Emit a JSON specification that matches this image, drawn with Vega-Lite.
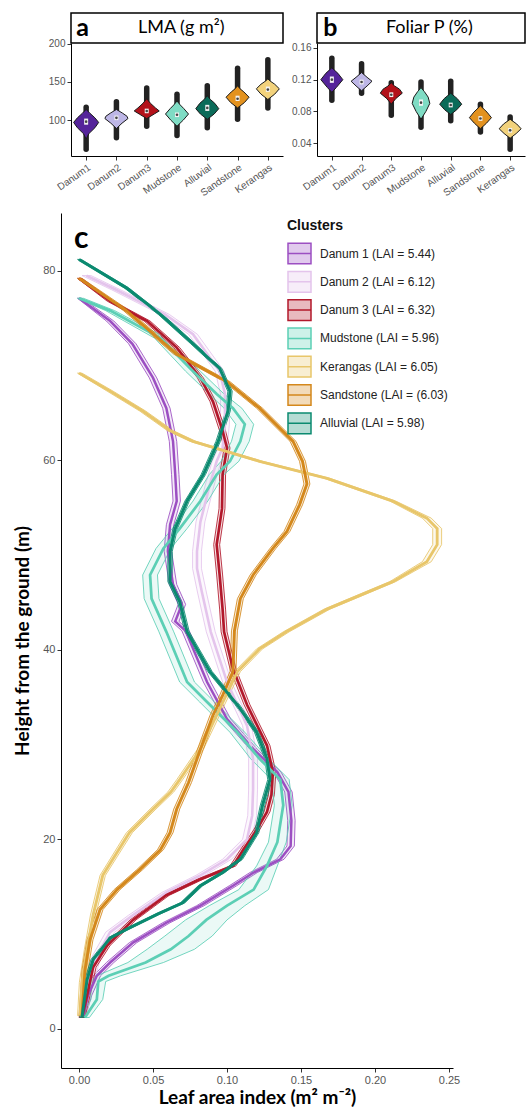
{
  "$schema": "https://vega.github.io/schema/vega-lite/v6.json",
  "padding": {"left": 13, "top": 12, "right": 0, "bottom": 0},
  "background": "white",
  "config": {
    "view": {"stroke": null},
    "font": "Liberation Sans",
    "axis": {"grid": false, "domainColor": "#000", "domainWidth": 1, "tickColor": "#333", "tickSize": 4, "labelColor": "#555", "labelFont": "Liberation Sans", "titleFont": "Lato", "titleColor": "#000", "labelOverlap": false}
  },
  "resolve": {"scale": {"color": "independent", "size": "independent", "x": "independent", "y": "independent", "stroke": "independent", "fill": "independent", "strokeWidth": "independent", "xOffset": "independent"}, "legend": {"color": "independent"}},
  "spacing": 15,
  "vconcat": [
    {
      "spacing": 7,
      "resolve": {"scale": {"color": "independent", "size": "independent", "x": "independent", "y": "independent", "xOffset": "independent"}},
      "hconcat": [
        {
          "spacing": -14,
          "resolve": {"scale": {"color": "independent", "size": "independent", "x": "independent", "y": "independent", "xOffset": "independent"}},
          "hconcat": [
            {"width": 1, "height": 10, "data": {"values": []}, "mark": "point"},
            {
              "bounds": "flush",
              "spacing": 0,
              "vconcat": [
                {
                  "width": 212, "height": 30,
                  "view": {"stroke": "#000", "strokeWidth": 1.5, "fill": "#fff"},
                  "layer": [
                    {"data": {"values": [{"t": "a"}]}, "mark": {"type": "text", "font": "Lato", "fontWeight": "bold", "fontSize": 25, "align": "left", "baseline": "middle"},
                     "encoding": {"x": {"datum": 0.025, "type": "quantitative", "scale": {"domain": [0, 1]}, "axis": null}, "y": {"datum": 0.5, "type": "quantitative", "scale": {"domain": [0, 1]}, "axis": null}, "text": {"field": "t"}}},
                    {"data": {"values": [{"t": "LMA (g m²)"}]}, "mark": {"type": "text", "font": "Lato", "fontSize": 18, "align": "center", "baseline": "middle"},
                     "encoding": {"x": {"datum": 0.52, "type": "quantitative", "axis": null}, "y": {"datum": 0.5, "type": "quantitative", "axis": null}, "text": {"field": "t"}}}
                  ]
                },
                {
                  "width": 212, "height": 113,
                  "encoding": {
                    "x": {"field": "cl", "type": "nominal", "sort": ["Danum1", "Danum2", "Danum3", "Mudstone", "Alluvial", "Sandstone", "Kerangas"], "scale": {"type": "point", "padding": 0.5},
                          "axis": {"title": null, "labelAngle": -35, "labelAlign": "right", "labelBaseline": "top", "labelFontSize": 10, "labelPadding": 2}}
                  },
                  "layer": [
                    {
                      "data": {"name": "statsA", "values": [
                        {"cl": "Danum1", "lo": 62, "hi": 117, "q1": 94, "q3": 102, "med": 98},
                        {"cl": "Danum2", "lo": 77, "hi": 124, "q1": 100, "q3": 106, "med": 103},
                        {"cl": "Danum3", "lo": 92, "hi": 142, "q1": 109, "q3": 115, "med": 112},
                        {"cl": "Mudstone", "lo": 80, "hi": 134, "q1": 104, "q3": 110, "med": 107},
                        {"cl": "Alluvial", "lo": 90, "hi": 145, "q1": 112, "q3": 120, "med": 116},
                        {"cl": "Sandstone", "lo": 101, "hi": 168, "q1": 125, "q3": 132, "med": 128},
                        {"cl": "Kerangas", "lo": 116, "hi": 179, "q1": 137, "q3": 144, "med": 140}
                      ]},
                      "mark": {"type": "rule", "strokeWidth": 5.5, "strokeCap": "round", "color": "#222"},
                      "encoding": {"y": {"field": "lo", "type": "quantitative", "scale": {"domain": [53, 201], "nice": false, "zero": false}, "axis": {"title": null, "values": [100, 150, 200], "tickCount": 5, "labelFontSize": 10}}, "y2": {"field": "hi"}}
                    },
                    {
                      "data": {"values": [
                        {"cl": "Danum1", "v": 75, "w": 0}, {"cl": "Danum1", "v": 82, "w": 0.2}, {"cl": "Danum1", "v": 90, "w": 0.7}, {"cl": "Danum1", "v": 97, "w": 1.0}, {"cl": "Danum1", "v": 103, "w": 0.7}, {"cl": "Danum1", "v": 109, "w": 0.3}, {"cl": "Danum1", "v": 114, "w": 0}, {"cl": "Danum1", "v": 109, "w": -0.3}, {"cl": "Danum1", "v": 103, "w": -0.7}, {"cl": "Danum1", "v": 97, "w": -1.0}, {"cl": "Danum1", "v": 90, "w": -0.7}, {"cl": "Danum1", "v": 82, "w": -0.2}, {"cl": "Danum1", "v": 75, "w": 0},
                        {"cl": "Danum2", "v": 89, "w": 0}, {"cl": "Danum2", "v": 96, "w": 0.45}, {"cl": "Danum2", "v": 102, "w": 0.92}, {"cl": "Danum2", "v": 105, "w": 0.85}, {"cl": "Danum2", "v": 109, "w": 0.5}, {"cl": "Danum2", "v": 114, "w": 0}, {"cl": "Danum2", "v": 109, "w": -0.5}, {"cl": "Danum2", "v": 105, "w": -0.85}, {"cl": "Danum2", "v": 102, "w": -0.92}, {"cl": "Danum2", "v": 96, "w": -0.45}, {"cl": "Danum2", "v": 89, "w": 0},
                        {"cl": "Danum3", "v": 102, "w": 0}, {"cl": "Danum3", "v": 108, "w": 0.6}, {"cl": "Danum3", "v": 112, "w": 1.0}, {"cl": "Danum3", "v": 116, "w": 0.7}, {"cl": "Danum3", "v": 122, "w": 0.3}, {"cl": "Danum3", "v": 128, "w": 0}, {"cl": "Danum3", "v": 122, "w": -0.3}, {"cl": "Danum3", "v": 116, "w": -0.7}, {"cl": "Danum3", "v": 112, "w": -1.0}, {"cl": "Danum3", "v": 108, "w": -0.6}, {"cl": "Danum3", "v": 102, "w": 0},
                        {"cl": "Mudstone", "v": 92, "w": 0}, {"cl": "Mudstone", "v": 100, "w": 0.5}, {"cl": "Mudstone", "v": 108, "w": 0.92}, {"cl": "Mudstone", "v": 115, "w": 0.55}, {"cl": "Mudstone", "v": 120, "w": 0.25}, {"cl": "Mudstone", "v": 125, "w": 0}, {"cl": "Mudstone", "v": 120, "w": -0.25}, {"cl": "Mudstone", "v": 115, "w": -0.55}, {"cl": "Mudstone", "v": 108, "w": -0.92}, {"cl": "Mudstone", "v": 100, "w": -0.5}, {"cl": "Mudstone", "v": 92, "w": 0},
                        {"cl": "Alluvial", "v": 101, "w": 0}, {"cl": "Alluvial", "v": 108, "w": 0.55}, {"cl": "Alluvial", "v": 115, "w": 0.92}, {"cl": "Alluvial", "v": 122, "w": 0.6}, {"cl": "Alluvial", "v": 127, "w": 0.25}, {"cl": "Alluvial", "v": 132, "w": 0}, {"cl": "Alluvial", "v": 127, "w": -0.25}, {"cl": "Alluvial", "v": 122, "w": -0.6}, {"cl": "Alluvial", "v": 115, "w": -0.92}, {"cl": "Alluvial", "v": 108, "w": -0.55}, {"cl": "Alluvial", "v": 101, "w": 0},
                        {"cl": "Sandstone", "v": 116, "w": 0}, {"cl": "Sandstone", "v": 123, "w": 0.55}, {"cl": "Sandstone", "v": 130, "w": 0.92}, {"cl": "Sandstone", "v": 137, "w": 0.5}, {"cl": "Sandstone", "v": 141, "w": 0.2}, {"cl": "Sandstone", "v": 145, "w": 0}, {"cl": "Sandstone", "v": 141, "w": -0.2}, {"cl": "Sandstone", "v": 137, "w": -0.5}, {"cl": "Sandstone", "v": 130, "w": -0.92}, {"cl": "Sandstone", "v": 123, "w": -0.55}, {"cl": "Sandstone", "v": 116, "w": 0},
                        {"cl": "Kerangas", "v": 127, "w": 0}, {"cl": "Kerangas", "v": 134, "w": 0.55}, {"cl": "Kerangas", "v": 141, "w": 0.92}, {"cl": "Kerangas", "v": 147, "w": 0.55}, {"cl": "Kerangas", "v": 151, "w": 0.2}, {"cl": "Kerangas", "v": 154, "w": 0}, {"cl": "Kerangas", "v": 151, "w": -0.2}, {"cl": "Kerangas", "v": 147, "w": -0.55}, {"cl": "Kerangas", "v": 141, "w": -0.92}, {"cl": "Kerangas", "v": 134, "w": -0.55}, {"cl": "Kerangas", "v": 127, "w": 0}
                      ]},
                      "mark": {"type": "line", "filled": true, "stroke": "#1a1a1a", "strokeWidth": 1, "strokeJoin": "round"},
                      "encoding": {"y": {"field": "v", "type": "quantitative"}, "order": {"value": null},
                                   "xOffset": {"field": "w", "type": "quantitative", "scale": {"domain": [-1, 1], "range": [-12.5, 12.5]}},
                                   "color": {"field": "cl", "type": "nominal", "scale": {"domain": ["Danum1", "Danum2", "Danum3", "Mudstone", "Alluvial", "Sandstone", "Kerangas"], "range": ["#55249a", "#bdb6e6", "#b3111a", "#7fdcc4", "#0b6b59", "#e3921f", "#f2d27c"]}, "legend": null}}
                    },
                    {
                      "data": {"name": "statsA"},
                      "mark": {"type": "rule", "strokeWidth": 4, "color": "#f2f2f2"},
                      "encoding": {"y": {"field": "q1", "type": "quantitative"}, "y2": {"field": "q3"}}
                    },
                    {
                      "data": {"name": "statsA"},
                      "mark": {"type": "point", "filled": true, "size": 7, "color": "#444", "opacity": 1},
                      "encoding": {"y": {"field": "med", "type": "quantitative"}}
                    }
                  ]
                }
              ]
            }
          ]
        },
        {
          "bounds": "flush",
          "spacing": 0,
          "vconcat": [
            {
              "width": 208, "height": 30,
              "view": {"stroke": "#000", "strokeWidth": 1.5, "fill": "#fff"},
              "layer": [
                {"data": {"values": [{"t": "b"}]}, "mark": {"type": "text", "font": "Lato", "fontWeight": "bold", "fontSize": 25, "align": "left", "baseline": "middle"},
                 "encoding": {"x": {"datum": 0.03, "type": "quantitative", "scale": {"domain": [0, 1]}, "axis": null}, "y": {"datum": 0.5, "type": "quantitative", "scale": {"domain": [0, 1]}, "axis": null}, "text": {"field": "t"}}},
                {"data": {"values": [{"t": "Foliar P (%)"}]}, "mark": {"type": "text", "font": "Lato", "fontSize": 18, "align": "center", "baseline": "middle"},
                 "encoding": {"x": {"datum": 0.54, "type": "quantitative", "axis": null}, "y": {"datum": 0.5, "type": "quantitative", "axis": null}, "text": {"field": "t"}}}
              ]
            },
            {
              "width": 208, "height": 113,
              "encoding": {
                "x": {"field": "cl", "type": "nominal", "sort": ["Danum1", "Danum2", "Danum3", "Mudstone", "Alluvial", "Sandstone", "Kerangas"], "scale": {"type": "point", "padding": 0.5},
                      "axis": {"title": null, "labelAngle": -35, "labelAlign": "right", "labelBaseline": "top", "labelFontSize": 10, "labelPadding": 2}}
              },
              "layer": [
                {
                  "data": {"name": "statsB", "values": [
                    {"cl": "Danum1", "lo": 0.094, "hi": 0.147, "q1": 0.116, "q3": 0.124, "med": 0.120},
                    {"cl": "Danum2", "lo": 0.103, "hi": 0.140, "q1": 0.114, "q3": 0.120, "med": 0.117},
                    {"cl": "Danum3", "lo": 0.075, "hi": 0.116, "q1": 0.098, "q3": 0.104, "med": 0.101},
                    {"cl": "Mudstone", "lo": 0.060, "hi": 0.117, "q1": 0.087, "q3": 0.095, "med": 0.091},
                    {"cl": "Alluvial", "lo": 0.068, "hi": 0.118, "q1": 0.085, "q3": 0.091, "med": 0.088},
                    {"cl": "Sandstone", "lo": 0.054, "hi": 0.089, "q1": 0.068, "q3": 0.074, "med": 0.071},
                    {"cl": "Kerangas", "lo": 0.032, "hi": 0.073, "q1": 0.053, "q3": 0.059, "med": 0.056}
                  ]},
                  "mark": {"type": "rule", "strokeWidth": 5.5, "strokeCap": "round", "color": "#222"},
                  "encoding": {"y": {"field": "lo", "type": "quantitative", "scale": {"domain": [0.0236, 0.1663], "nice": false, "zero": false}, "axis": {"title": null, "values": [0.04, 0.08, 0.12, 0.16], "tickCount": 6, "format": ".2f", "labelFontSize": 10, "labelOverlap": false}}, "y2": {"field": "hi"}}
                },
                {
                  "data": {"values": [
                    {"cl": "Danum1", "v": 0.104, "w": 0}, {"cl": "Danum1", "v": 0.110, "w": 0.4}, {"cl": "Danum1", "v": 0.120, "w": 1.0}, {"cl": "Danum1", "v": 0.128, "w": 0.55}, {"cl": "Danum1", "v": 0.135, "w": 0}, {"cl": "Danum1", "v": 0.128, "w": -0.55}, {"cl": "Danum1", "v": 0.120, "w": -1.0}, {"cl": "Danum1", "v": 0.110, "w": -0.4}, {"cl": "Danum1", "v": 0.104, "w": 0},
                    {"cl": "Danum2", "v": 0.106, "w": 0}, {"cl": "Danum2", "v": 0.112, "w": 0.5}, {"cl": "Danum2", "v": 0.118, "w": 0.95}, {"cl": "Danum2", "v": 0.123, "w": 0.5}, {"cl": "Danum2", "v": 0.129, "w": 0}, {"cl": "Danum2", "v": 0.123, "w": -0.5}, {"cl": "Danum2", "v": 0.118, "w": -0.95}, {"cl": "Danum2", "v": 0.112, "w": -0.5}, {"cl": "Danum2", "v": 0.106, "w": 0},
                    {"cl": "Danum3", "v": 0.089, "w": 0}, {"cl": "Danum3", "v": 0.096, "w": 0.4}, {"cl": "Danum3", "v": 0.103, "w": 1.0}, {"cl": "Danum3", "v": 0.108, "w": 0.75}, {"cl": "Danum3", "v": 0.112, "w": 0.3}, {"cl": "Danum3", "v": 0.116, "w": 0}, {"cl": "Danum3", "v": 0.112, "w": -0.3}, {"cl": "Danum3", "v": 0.108, "w": -0.75}, {"cl": "Danum3", "v": 0.103, "w": -1.0}, {"cl": "Danum3", "v": 0.096, "w": -0.4}, {"cl": "Danum3", "v": 0.089, "w": 0},
                    {"cl": "Mudstone", "v": 0.070, "w": 0}, {"cl": "Mudstone", "v": 0.080, "w": 0.45}, {"cl": "Mudstone", "v": 0.090, "w": 0.8}, {"cl": "Mudstone", "v": 0.098, "w": 0.65}, {"cl": "Mudstone", "v": 0.105, "w": 0.3}, {"cl": "Mudstone", "v": 0.110, "w": 0}, {"cl": "Mudstone", "v": 0.105, "w": -0.3}, {"cl": "Mudstone", "v": 0.098, "w": -0.65}, {"cl": "Mudstone", "v": 0.090, "w": -0.8}, {"cl": "Mudstone", "v": 0.080, "w": -0.45}, {"cl": "Mudstone", "v": 0.070, "w": 0},
                    {"cl": "Alluvial", "v": 0.076, "w": 0}, {"cl": "Alluvial", "v": 0.082, "w": 0.55}, {"cl": "Alluvial", "v": 0.089, "w": 1.0}, {"cl": "Alluvial", "v": 0.096, "w": 0.6}, {"cl": "Alluvial", "v": 0.103, "w": 0}, {"cl": "Alluvial", "v": 0.096, "w": -0.6}, {"cl": "Alluvial", "v": 0.089, "w": -1.0}, {"cl": "Alluvial", "v": 0.082, "w": -0.55}, {"cl": "Alluvial", "v": 0.076, "w": 0},
                    {"cl": "Sandstone", "v": 0.058, "w": 0}, {"cl": "Sandstone", "v": 0.065, "w": 0.55}, {"cl": "Sandstone", "v": 0.072, "w": 1.0}, {"cl": "Sandstone", "v": 0.079, "w": 0.6}, {"cl": "Sandstone", "v": 0.087, "w": 0}, {"cl": "Sandstone", "v": 0.079, "w": -0.6}, {"cl": "Sandstone", "v": 0.072, "w": -1.0}, {"cl": "Sandstone", "v": 0.065, "w": -0.55}, {"cl": "Sandstone", "v": 0.058, "w": 0},
                    {"cl": "Kerangas", "v": 0.046, "w": 0}, {"cl": "Kerangas", "v": 0.052, "w": 0.55}, {"cl": "Kerangas", "v": 0.058, "w": 1.0}, {"cl": "Kerangas", "v": 0.064, "w": 0.6}, {"cl": "Kerangas", "v": 0.070, "w": 0}, {"cl": "Kerangas", "v": 0.064, "w": -0.6}, {"cl": "Kerangas", "v": 0.058, "w": -1.0}, {"cl": "Kerangas", "v": 0.052, "w": -0.55}, {"cl": "Kerangas", "v": 0.046, "w": 0}
                  ]},
                  "mark": {"type": "line", "filled": true, "stroke": "#1a1a1a", "strokeWidth": 1, "strokeJoin": "round"},
                  "encoding": {"y": {"field": "v", "type": "quantitative"}, "order": {"value": null},
                               "xOffset": {"field": "w", "type": "quantitative", "scale": {"domain": [-1, 1], "range": [-11, 11]}},
                               "color": {"field": "cl", "type": "nominal", "scale": {"domain": ["Danum1", "Danum2", "Danum3", "Mudstone", "Alluvial", "Sandstone", "Kerangas"], "range": ["#55249a", "#bdb6e6", "#b3111a", "#7fdcc4", "#0b6b59", "#e3921f", "#f2d27c"]}, "legend": null}}
                },
                {
                  "data": {"name": "statsB"},
                  "mark": {"type": "rule", "strokeWidth": 4, "color": "#f2f2f2"},
                  "encoding": {"y": {"field": "q1", "type": "quantitative"}, "y2": {"field": "q3"}}
                },
                {
                  "data": {"name": "statsB"},
                  "mark": {"type": "point", "filled": true, "size": 7, "color": "#444", "opacity": 1},
                  "encoding": {"y": {"field": "med", "type": "quantitative"}}
                }
              ]
            }
          ]
        }
      ]
    },
    {
      "width": 392, "height": 855,
      "resolve": {"scale": {"strokeWidth": "independent"}},
      "layer": [
        {
          "data": {"name": "lai", "values": [
            {"cl":"Danum 1","h":1.4,"m":0.003,"lo":0.0015,"hi":0.0045},{"cl":"Danum 1","h":3.5,"m":0.006,"lo":0.0035,"hi":0.0085},{"cl":"Danum 1","h":5.6,"m":0.012,"lo":0.0095,"hi":0.0145},{"cl":"Danum 1","h":7.0,"m":0.021,"lo":0.0185,"hi":0.0235},{"cl":"Danum 1","h":9.1,"m":0.0365,"lo":0.034,"hi":0.039},{"cl":"Danum 1","h":11.2,"m":0.059,"lo":0.0565,"hi":0.0615},{"cl":"Danum 1","h":13.0,"m":0.082,"lo":0.0795,"hi":0.0845},{"cl":"Danum 1","h":15.1,"m":0.104,"lo":0.1015,"hi":0.1065},{"cl":"Danum 1","h":16.5,"m":0.118,"lo":0.1155,"hi":0.1205},{"cl":"Danum 1","h":17.9,"m":0.136,"lo":0.1335,"hi":0.1385},{"cl":"Danum 1","h":19.3,"m":0.143,"lo":0.1405,"hi":0.1455},{"cl":"Danum 1","h":22,"m":0.1435,"lo":0.141,"hi":0.146},{"cl":"Danum 1","h":25,"m":0.1415,"lo":0.139,"hi":0.144},{"cl":"Danum 1","h":27.1,"m":0.134,"lo":0.1315,"hi":0.1365},{"cl":"Danum 1","h":29.5,"m":0.118,"lo":0.1155,"hi":0.1205},{"cl":"Danum 1","h":32.7,"m":0.1,"lo":0.0975,"hi":0.1025},{"cl":"Danum 1","h":36.6,"m":0.0865,"lo":0.084,"hi":0.089},{"cl":"Danum 1","h":42,"m":0.072,"lo":0.0695,"hi":0.0745},{"cl":"Danum 1","h":43,"m":0.065,"lo":0.0625,"hi":0.0675},{"cl":"Danum 1","h":44.8,"m":0.0695,"lo":0.067,"hi":0.072},{"cl":"Danum 1","h":46.9,"m":0.0635,"lo":0.061,"hi":0.066},{"cl":"Danum 1","h":50.4,"m":0.06,"lo":0.0575,"hi":0.0625},{"cl":"Danum 1","h":53.2,"m":0.0615,"lo":0.059,"hi":0.064},{"cl":"Danum 1","h":55.7,"m":0.066,"lo":0.0635,"hi":0.0685},{"cl":"Danum 1","h":58.5,"m":0.065,"lo":0.0625,"hi":0.0675},{"cl":"Danum 1","h":62,"m":0.0635,"lo":0.061,"hi":0.066},{"cl":"Danum 1","h":65.5,"m":0.059,"lo":0.0565,"hi":0.0615},{"cl":"Danum 1","h":68.7,"m":0.05,"lo":0.0475,"hi":0.0525},{"cl":"Danum 1","h":72.3,"m":0.036,"lo":0.0335,"hi":0.0385},{"cl":"Danum 1","h":74.7,"m":0.021,"lo":0.0185,"hi":0.0235},{"cl":"Danum 1","h":77.1,"m":0.0,"lo":-0.001,"hi":0.002},
            {"cl":"Danum 2","h":1.4,"m":0.002,"lo":0.0,"hi":0.005},{"cl":"Danum 2","h":4.1,"m":0.0054,"lo":0.0024,"hi":0.0084},{"cl":"Danum 2","h":7.7,"m":0.012,"lo":0.009,"hi":0.015},{"cl":"Danum 2","h":10.2,"m":0.021,"lo":0.018,"hi":0.024},{"cl":"Danum 2","h":12.0,"m":0.0365,"lo":0.0335,"hi":0.0395},{"cl":"Danum 2","h":14.4,"m":0.059,"lo":0.056,"hi":0.062},{"cl":"Danum 2","h":16.2,"m":0.082,"lo":0.079,"hi":0.085},{"cl":"Danum 2","h":17.9,"m":0.1,"lo":0.097,"hi":0.103},{"cl":"Danum 2","h":20,"m":0.1135,"lo":0.1105,"hi":0.1165},{"cl":"Danum 2","h":22.5,"m":0.117,"lo":0.114,"hi":0.12},{"cl":"Danum 2","h":25.3,"m":0.1176,"lo":0.1146,"hi":0.1206},{"cl":"Danum 2","h":28.5,"m":0.1176,"lo":0.1146,"hi":0.1206},{"cl":"Danum 2","h":32,"m":0.1135,"lo":0.1105,"hi":0.1165},{"cl":"Danum 2","h":36.6,"m":0.1,"lo":0.097,"hi":0.103},{"cl":"Danum 2","h":41.9,"m":0.089,"lo":0.086,"hi":0.092},{"cl":"Danum 2","h":46.1,"m":0.083,"lo":0.08,"hi":0.086},{"cl":"Danum 2","h":48.6,"m":0.0797,"lo":0.0767,"hi":0.0827},{"cl":"Danum 2","h":50.4,"m":0.0797,"lo":0.0767,"hi":0.0827},{"cl":"Danum 2","h":53.5,"m":0.082,"lo":0.079,"hi":0.085},{"cl":"Danum 2","h":57.5,"m":0.0885,"lo":0.0855,"hi":0.0915},{"cl":"Danum 2","h":59.9,"m":0.093,"lo":0.09,"hi":0.096},{"cl":"Danum 2","h":61.3,"m":0.097,"lo":0.094,"hi":0.1},{"cl":"Danum 2","h":63.8,"m":0.0986,"lo":0.0956,"hi":0.1016},{"cl":"Danum 2","h":67,"m":0.0986,"lo":0.0956,"hi":0.1016},{"cl":"Danum 2","h":69.4,"m":0.095,"lo":0.092,"hi":0.098},{"cl":"Danum 2","h":73.3,"m":0.077,"lo":0.074,"hi":0.08},{"cl":"Danum 2","h":75.4,"m":0.058,"lo":0.055,"hi":0.061},{"cl":"Danum 2","h":78,"m":0.025,"lo":0.022,"hi":0.028},{"cl":"Danum 2","h":79.5,"m":0.005,"lo":0.002,"hi":0.008},
            {"cl":"Danum 3","h":1.2,"m":0.002,"lo":0.0,"hi":0.004},{"cl":"Danum 3","h":3.5,"m":0.0054,"lo":0.0034,"hi":0.0074},{"cl":"Danum 3","h":6.5,"m":0.0095,"lo":0.0075,"hi":0.0115},{"cl":"Danum 3","h":8.8,"m":0.019,"lo":0.017,"hi":0.021},{"cl":"Danum 3","h":11.5,"m":0.0365,"lo":0.0345,"hi":0.0385},{"cl":"Danum 3","h":14.1,"m":0.059,"lo":0.057,"hi":0.061},{"cl":"Danum 3","h":15.8,"m":0.082,"lo":0.08,"hi":0.084},{"cl":"Danum 3","h":17.2,"m":0.104,"lo":0.102,"hi":0.106},{"cl":"Danum 3","h":18.9,"m":0.111,"lo":0.109,"hi":0.113},{"cl":"Danum 3","h":21,"m":0.12,"lo":0.118,"hi":0.122},{"cl":"Danum 3","h":22.9,"m":0.127,"lo":0.125,"hi":0.129},{"cl":"Danum 3","h":24.7,"m":0.13,"lo":0.128,"hi":0.132},{"cl":"Danum 3","h":27.1,"m":0.131,"lo":0.129,"hi":0.133},{"cl":"Danum 3","h":29.9,"m":0.127,"lo":0.125,"hi":0.129},{"cl":"Danum 3","h":34.2,"m":0.1135,"lo":0.1115,"hi":0.1155},{"cl":"Danum 3","h":38,"m":0.104,"lo":0.102,"hi":0.106},{"cl":"Danum 3","h":41.9,"m":0.098,"lo":0.096,"hi":0.1},{"cl":"Danum 3","h":44.3,"m":0.097,"lo":0.095,"hi":0.099},{"cl":"Danum 3","h":47.9,"m":0.095,"lo":0.093,"hi":0.097},{"cl":"Danum 3","h":51.1,"m":0.093,"lo":0.091,"hi":0.095},{"cl":"Danum 3","h":54.9,"m":0.0966,"lo":0.0946,"hi":0.0986},{"cl":"Danum 3","h":58.5,"m":0.097,"lo":0.095,"hi":0.099},{"cl":"Danum 3","h":61.3,"m":0.1,"lo":0.098,"hi":0.102},{"cl":"Danum 3","h":63.1,"m":0.097,"lo":0.095,"hi":0.099},{"cl":"Danum 3","h":66.2,"m":0.0905,"lo":0.0885,"hi":0.0925},{"cl":"Danum 3","h":68.7,"m":0.082,"lo":0.08,"hi":0.084},{"cl":"Danum 3","h":71.9,"m":0.066,"lo":0.064,"hi":0.068},{"cl":"Danum 3","h":74.7,"m":0.046,"lo":0.044,"hi":0.048},{"cl":"Danum 3","h":76.8,"m":0.021,"lo":0.019,"hi":0.023},{"cl":"Danum 3","h":79.2,"m":0.0,"lo":-0.001,"hi":0.002},
            {"cl":"Mudstone","h":1.2,"m":0.004,"lo":0.001,"hi":0.007},{"cl":"Mudstone","h":3.1,"m":0.012,"lo":0.008,"hi":0.016},{"cl":"Mudstone","h":5.0,"m":0.013,"lo":0.008,"hi":0.018},{"cl":"Mudstone","h":5.6,"m":0.02,"lo":0.012,"hi":0.028},{"cl":"Mudstone","h":7.0,"m":0.045,"lo":0.033,"hi":0.057},{"cl":"Mudstone","h":8.4,"m":0.062,"lo":0.046,"hi":0.078},{"cl":"Mudstone","h":9.8,"m":0.074,"lo":0.058,"hi":0.09},{"cl":"Mudstone","h":11.5,"m":0.086,"lo":0.072,"hi":0.1},{"cl":"Mudstone","h":13.0,"m":0.1,"lo":0.088,"hi":0.112},{"cl":"Mudstone","h":14.7,"m":0.118,"lo":0.108,"hi":0.128},{"cl":"Mudstone","h":17.2,"m":0.127,"lo":0.12,"hi":0.134},{"cl":"Mudstone","h":19.7,"m":0.134,"lo":0.128,"hi":0.14},{"cl":"Mudstone","h":23.6,"m":0.138,"lo":0.132,"hi":0.144},{"cl":"Mudstone","h":26.3,"m":0.136,"lo":0.13,"hi":0.142},{"cl":"Mudstone","h":28.5,"m":0.122,"lo":0.116,"hi":0.128},{"cl":"Mudstone","h":31.3,"m":0.107,"lo":0.102,"hi":0.112},{"cl":"Mudstone","h":34.5,"m":0.0865,"lo":0.0815,"hi":0.0915},{"cl":"Mudstone","h":36.6,"m":0.073,"lo":0.068,"hi":0.078},{"cl":"Mudstone","h":41.9,"m":0.059,"lo":0.054,"hi":0.064},{"cl":"Mudstone","h":45.4,"m":0.049,"lo":0.044,"hi":0.054},{"cl":"Mudstone","h":47.9,"m":0.048,"lo":0.043,"hi":0.053},{"cl":"Mudstone","h":50.7,"m":0.057,"lo":0.052,"hi":0.062},{"cl":"Mudstone","h":52.8,"m":0.068,"lo":0.063,"hi":0.073},{"cl":"Mudstone","h":55.7,"m":0.082,"lo":0.077,"hi":0.087},{"cl":"Mudstone","h":58.5,"m":0.093,"lo":0.088,"hi":0.098},{"cl":"Mudstone","h":59.9,"m":0.102,"lo":0.096,"hi":0.108},{"cl":"Mudstone","h":62,"m":0.109,"lo":0.103,"hi":0.115},{"cl":"Mudstone","h":63.8,"m":0.112,"lo":0.106,"hi":0.118},{"cl":"Mudstone","h":65.5,"m":0.104,"lo":0.098,"hi":0.11},{"cl":"Mudstone","h":67,"m":0.093,"lo":0.088,"hi":0.098},{"cl":"Mudstone","h":69.4,"m":0.077,"lo":0.072,"hi":0.082},{"cl":"Mudstone","h":72.9,"m":0.055,"lo":0.051,"hi":0.059},{"cl":"Mudstone","h":75.8,"m":0.021,"lo":0.018,"hi":0.024},{"cl":"Mudstone","h":77.1,"m":0.0,"lo":-0.001,"hi":0.003},
            {"cl":"Kerangas","h":1.4,"m":0.0007,"lo":-0.001,"hi":0.0025},{"cl":"Kerangas","h":4.9,"m":0.002,"lo":0.0002,"hi":0.0038},{"cl":"Kerangas","h":8.4,"m":0.0054,"lo":0.0036,"hi":0.0072},{"cl":"Kerangas","h":12,"m":0.0095,"lo":0.0077,"hi":0.0113},{"cl":"Kerangas","h":16.2,"m":0.016,"lo":0.0142,"hi":0.0178},{"cl":"Kerangas","h":20.7,"m":0.034,"lo":0.032,"hi":0.036},{"cl":"Kerangas","h":23.2,"m":0.05,"lo":0.048,"hi":0.052},{"cl":"Kerangas","h":25,"m":0.062,"lo":0.06,"hi":0.064},{"cl":"Kerangas","h":26.3,"m":0.068,"lo":0.066,"hi":0.07},{"cl":"Kerangas","h":29.5,"m":0.082,"lo":0.08,"hi":0.084},{"cl":"Kerangas","h":33.1,"m":0.093,"lo":0.091,"hi":0.095},{"cl":"Kerangas","h":37.7,"m":0.107,"lo":0.105,"hi":0.109},{"cl":"Kerangas","h":40.1,"m":0.122,"lo":0.12,"hi":0.124},{"cl":"Kerangas","h":41.9,"m":0.14,"lo":0.138,"hi":0.142},{"cl":"Kerangas","h":44.3,"m":0.1676,"lo":0.1656,"hi":0.1696},{"cl":"Kerangas","h":47.2,"m":0.212,"lo":0.21,"hi":0.214},{"cl":"Kerangas","h":49.3,"m":0.235,"lo":0.232,"hi":0.238},{"cl":"Kerangas","h":51.1,"m":0.242,"lo":0.239,"hi":0.245},{"cl":"Kerangas","h":52.8,"m":0.242,"lo":0.239,"hi":0.245},{"cl":"Kerangas","h":53.9,"m":0.235,"lo":0.232,"hi":0.238},{"cl":"Kerangas","h":55.7,"m":0.212,"lo":0.21,"hi":0.214},{"cl":"Kerangas","h":58.1,"m":0.1676,"lo":0.1656,"hi":0.1696},{"cl":"Kerangas","h":59.9,"m":0.122,"lo":0.12,"hi":0.124},{"cl":"Kerangas","h":62,"m":0.077,"lo":0.075,"hi":0.079},{"cl":"Kerangas","h":63.1,"m":0.062,"lo":0.06,"hi":0.064},{"cl":"Kerangas","h":65.2,"m":0.043,"lo":0.041,"hi":0.045},{"cl":"Kerangas","h":67.3,"m":0.021,"lo":0.019,"hi":0.023},{"cl":"Kerangas","h":69.2,"m":0.0,"lo":-0.001,"hi":0.002},
            {"cl":"Sandstone","h":1.4,"m":0.002,"lo":0.0,"hi":0.004},{"cl":"Sandstone","h":6.2,"m":0.004,"lo":0.002,"hi":0.006},{"cl":"Sandstone","h":9.4,"m":0.0074,"lo":0.0054,"hi":0.0094},{"cl":"Sandstone","h":12.6,"m":0.0142,"lo":0.0122,"hi":0.0162},{"cl":"Sandstone","h":14.7,"m":0.0257,"lo":0.0237,"hi":0.0277},{"cl":"Sandstone","h":16.8,"m":0.041,"lo":0.039,"hi":0.043},{"cl":"Sandstone","h":18.9,"m":0.055,"lo":0.053,"hi":0.057},{"cl":"Sandstone","h":20.7,"m":0.0615,"lo":0.0595,"hi":0.0635},{"cl":"Sandstone","h":23.2,"m":0.066,"lo":0.064,"hi":0.068},{"cl":"Sandstone","h":26,"m":0.074,"lo":0.072,"hi":0.076},{"cl":"Sandstone","h":29.5,"m":0.082,"lo":0.08,"hi":0.084},{"cl":"Sandstone","h":33.1,"m":0.0905,"lo":0.0885,"hi":0.0925},{"cl":"Sandstone","h":35.2,"m":0.097,"lo":0.095,"hi":0.099},{"cl":"Sandstone","h":37.7,"m":0.104,"lo":0.102,"hi":0.106},{"cl":"Sandstone","h":42,"m":0.105,"lo":0.103,"hi":0.107},{"cl":"Sandstone","h":45.4,"m":0.109,"lo":0.107,"hi":0.111},{"cl":"Sandstone","h":47.9,"m":0.1176,"lo":0.1156,"hi":0.1196},{"cl":"Sandstone","h":50.7,"m":0.131,"lo":0.129,"hi":0.133},{"cl":"Sandstone","h":52.5,"m":0.1405,"lo":0.1385,"hi":0.1425},{"cl":"Sandstone","h":55.3,"m":0.149,"lo":0.147,"hi":0.151},{"cl":"Sandstone","h":57.5,"m":0.154,"lo":0.152,"hi":0.156},{"cl":"Sandstone","h":59.9,"m":0.151,"lo":0.149,"hi":0.153},{"cl":"Sandstone","h":62,"m":0.1446,"lo":0.1426,"hi":0.1466},{"cl":"Sandstone","h":65.5,"m":0.122,"lo":0.12,"hi":0.124},{"cl":"Sandstone","h":68.3,"m":0.1,"lo":0.098,"hi":0.102},{"cl":"Sandstone","h":71.2,"m":0.066,"lo":0.064,"hi":0.068},{"cl":"Sandstone","h":75.8,"m":0.032,"lo":0.03,"hi":0.034},{"cl":"Sandstone","h":79.2,"m":0.0,"lo":-0.001,"hi":0.002},
            {"cl":"Alluvial","h":1.2,"m":0.002,"lo":0.0005,"hi":0.0035},{"cl":"Alluvial","h":5.2,"m":0.0054,"lo":0.0039,"hi":0.0069},{"cl":"Alluvial","h":7.3,"m":0.0095,"lo":0.008,"hi":0.011},{"cl":"Alluvial","h":9.6,"m":0.021,"lo":0.0195,"hi":0.0225},{"cl":"Alluvial","h":10.5,"m":0.032,"lo":0.0305,"hi":0.0335},{"cl":"Alluvial","h":12.1,"m":0.053,"lo":0.0515,"hi":0.0545},{"cl":"Alluvial","h":13.3,"m":0.07,"lo":0.0685,"hi":0.0715},{"cl":"Alluvial","h":15.1,"m":0.082,"lo":0.0805,"hi":0.0835},{"cl":"Alluvial","h":16.5,"m":0.097,"lo":0.0955,"hi":0.0985},{"cl":"Alluvial","h":17.9,"m":0.109,"lo":0.1075,"hi":0.1105},{"cl":"Alluvial","h":20.7,"m":0.12,"lo":0.1185,"hi":0.1215},{"cl":"Alluvial","h":23.6,"m":0.124,"lo":0.1225,"hi":0.1255},{"cl":"Alluvial","h":26.3,"m":0.129,"lo":0.1275,"hi":0.1305},{"cl":"Alluvial","h":28.5,"m":0.127,"lo":0.1255,"hi":0.1285},{"cl":"Alluvial","h":31.3,"m":0.12,"lo":0.1185,"hi":0.1215},{"cl":"Alluvial","h":34.2,"m":0.107,"lo":0.1055,"hi":0.1085},{"cl":"Alluvial","h":37.7,"m":0.0885,"lo":0.087,"hi":0.09},{"cl":"Alluvial","h":41.9,"m":0.073,"lo":0.0715,"hi":0.0745},{"cl":"Alluvial","h":45.1,"m":0.068,"lo":0.0665,"hi":0.0695},{"cl":"Alluvial","h":47.2,"m":0.0615,"lo":0.06,"hi":0.063},{"cl":"Alluvial","h":50.4,"m":0.0615,"lo":0.06,"hi":0.063},{"cl":"Alluvial","h":52.8,"m":0.065,"lo":0.0635,"hi":0.0665},{"cl":"Alluvial","h":55.7,"m":0.073,"lo":0.0715,"hi":0.0745},{"cl":"Alluvial","h":58.5,"m":0.084,"lo":0.0825,"hi":0.0855},{"cl":"Alluvial","h":62,"m":0.094,"lo":0.0925,"hi":0.0955},{"cl":"Alluvial","h":65.2,"m":0.1007,"lo":0.0992,"hi":0.1022},{"cl":"Alluvial","h":67.3,"m":0.102,"lo":0.1005,"hi":0.1035},{"cl":"Alluvial","h":69.7,"m":0.095,"lo":0.0935,"hi":0.0965},{"cl":"Alluvial","h":72.3,"m":0.077,"lo":0.0755,"hi":0.0785},{"cl":"Alluvial","h":75.4,"m":0.055,"lo":0.0535,"hi":0.0565},{"cl":"Alluvial","h":78.2,"m":0.032,"lo":0.0305,"hi":0.0335},{"cl":"Alluvial","h":81.2,"m":0.0,"lo":-0.001,"hi":0.0015}
          ]},
          "mark": {"type": "area", "orient": "horizontal", "fillOpacity": 0.12, "strokeWidth": 1, "strokeOpacity": 0.85},
          "encoding": {
            "y": {"field": "h", "type": "quantitative", "scale": {"domain": [-4.13, 86.1], "nice": false, "zero": false},
                  "axis": {"title": "Height from the ground (m)", "values": [0, 20, 40, 60, 80], "labelFontSize": 11, "titleFontSize": 19, "titleFontWeight": "bold", "titlePadding": 10}},
            "x": {"field": "lo", "type": "quantitative", "stack": null, "scale": {"domain": [-0.0122, 0.2527], "nice": false, "zero": false},
                  "axis": {"title": "Leaf area index (m² m⁻²)", "values": [0, 0.05, 0.1, 0.15, 0.2, 0.25], "format": ".2f", "labelFontSize": 11, "titleFontSize": 19, "titleFontWeight": "bold", "titlePadding": 3}},
            "x2": {"field": "hi"},
            "fill": {"field": "cl", "type": "nominal", "scale": {"domain": ["Danum 1", "Danum 2", "Danum 3", "Mudstone", "Kerangas", "Sandstone", "Alluvial"], "range": ["#9c4fc2", "#e4c4ec", "#b2182b", "#5ccfb5", "#e8c66a", "#d4881c", "#0b8a70"]},
                     "legend": {"orient": "none", "legendX": 226, "legendY": 6, "title": "Clusters", "titleFont": "Liberation Sans", "titleFontSize": 14, "titleFontWeight": "bold", "titleColor": "#111", "titlePadding": 8,
                                "labelFont": "Liberation Sans", "labelFontSize": 12, "labelColor": "#222", "labelOffset": 8,
                                "symbolType": "M-1,-0.9H1V0.9H-1ZM-1,0H1", "symbolSize": 529, "symbolStrokeWidth": 1.5, "rowPadding": 1.3,
                                "encode": {"symbols": {"update": {"fillOpacity": {"value": 0.3}, "strokeOpacity": {"value": 1}}}},
                                "labelExpr": "datum.label == 'Danum 1' ? 'Danum 1 (LAI = 5.44)' : datum.label == 'Danum 2' ? 'Danum 2 (LAI = 6.12)' : datum.label == 'Danum 3' ? 'Danum 3 (LAI = 6.32)' : datum.label == 'Mudstone' ? 'Mudstone (LAI = 5.96)' : datum.label == 'Kerangas' ? 'Kerangas (LAI = 6.05)' : datum.label == 'Sandstone' ? 'Sandstone (LAI = (6.03)' : 'Alluvial (LAI = 5.98)'"}},
            "stroke": {"field": "cl", "type": "nominal", "scale": {"domain": ["Danum 1", "Danum 2", "Danum 3", "Mudstone", "Kerangas", "Sandstone", "Alluvial"], "range": ["#9c4fc2", "#e4c4ec", "#b2182b", "#5ccfb5", "#e8c66a", "#d4881c", "#0b8a70"]},
                     "legend": {"orient": "none", "legendX": 226, "legendY": 6, "title": "Clusters", "titleFont": "Liberation Sans", "titleFontSize": 14, "titleFontWeight": "bold", "titleColor": "#111", "titlePadding": 8,
                                "labelFont": "Liberation Sans", "labelFontSize": 12, "labelColor": "#222", "labelOffset": 8,
                                "symbolType": "M-1,-0.9H1V0.9H-1ZM-1,0H1", "symbolSize": 529, "symbolStrokeWidth": 1.5, "rowPadding": 1.3,
                                "encode": {"symbols": {"update": {"fillOpacity": {"value": 0.3}, "strokeOpacity": {"value": 1}}}},
                                "labelExpr": "datum.label == 'Danum 1' ? 'Danum 1 (LAI = 5.44)' : datum.label == 'Danum 2' ? 'Danum 2 (LAI = 6.12)' : datum.label == 'Danum 3' ? 'Danum 3 (LAI = 6.32)' : datum.label == 'Mudstone' ? 'Mudstone (LAI = 5.96)' : datum.label == 'Kerangas' ? 'Kerangas (LAI = 6.05)' : datum.label == 'Sandstone' ? 'Sandstone (LAI = (6.03)' : 'Alluvial (LAI = 5.98)'"}}
          }
        },
        {
          "data": {"name": "lai"},
          "mark": {"type": "line"},
          "encoding": {
            "y": {"field": "h", "type": "quantitative", "axis": {"title": "Height from the ground (m)"}},
            "x": {"field": "m", "type": "quantitative", "axis": {"title": "Leaf area index (m² m⁻²)"}},
            "order": {"field": "h", "type": "quantitative"},
            "stroke": {"field": "cl", "type": "nominal"},
            "strokeWidth": {"field": "cl", "type": "nominal", "scale": {"domain": ["Danum 1", "Danum 2", "Danum 3", "Mudstone", "Kerangas", "Sandstone", "Alluvial"], "range": [2.5, 3, 2.2, 1.2, 2, 2.5, 2.5]}, "legend": null}
          }
        },
        {
          "data": {"values": [{"t": "c"}]},
          "mark": {"type": "text", "font": "Lato", "fontWeight": "bold", "fontSize": 30, "align": "left", "baseline": "alphabetic"},
          "encoding": {"x": {"datum": -0.0034, "type": "quantitative"}, "y": {"datum": 82.4, "type": "quantitative"}, "text": {"field": "t"}}
        }
      ]
    }
  ]
}
